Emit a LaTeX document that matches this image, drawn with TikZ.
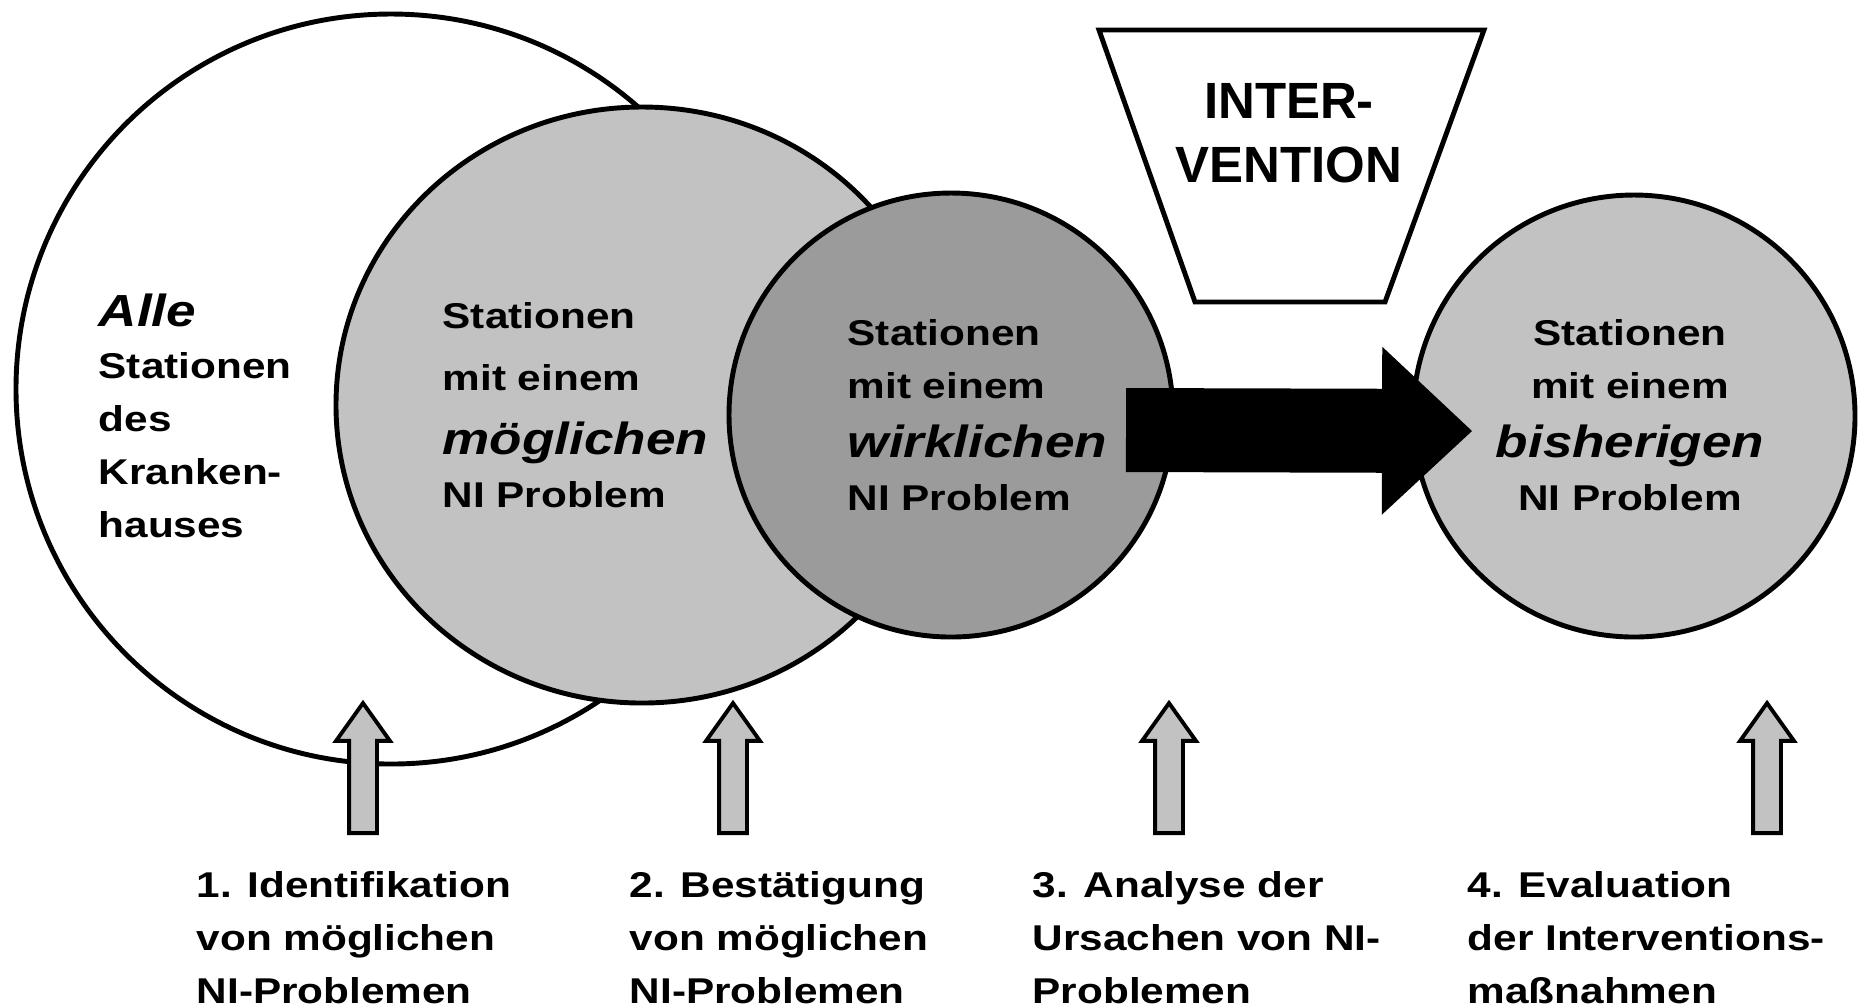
\documentclass[tikz,border=0pt]{standalone}
\usepackage{fontspec}
\setmainfont{Liberation Sans}[FakeStretch=1.18]
\newfontfamily\ivfont{Liberation Sans}
\usetikzlibrary{shapes.geometric,shapes.arrows,arrows.meta}

\definecolor{lightfill}{RGB}{194,194,194}
\definecolor{darkfill}{RGB}{155,155,155}
\newcommand{\emw}[1]{{\fontsize{12.8}{15}\selectfont\itshape #1}}

\tikzstyle{circ} = [ellipse, draw=black, line width=1.4pt, inner sep=0pt, outer sep=0pt]
\tikzstyle{lbl} = [inner sep=0pt, align=left, font=\fontsize{10.2}{15}\selectfont\bfseries]
\tikzstyle{up_arr} = [single arrow, draw=black, line width=1.1pt, fill=lightfill, rotate=90, inner xsep=0pt, inner ysep=1.2mm, minimum height=1.3cm, single arrow head extend=1.3mm, single arrow tip angle=71, anchor=tail]
\tikzstyle{arrow} = [line width=8.4mm, -{Triangle[length=9mm,width=16.8mm,line width=0pt]}]
\tikzstyle{funnel} = [draw=black, line width=1.4pt, line join=miter]

\begin{document}
\begin{tikzpicture}
\useasboundingbox (0,0) rectangle (18.6,-10.06);

% Circles
\node (c1) [circ, fill=white, minimum width=7.5cm, minimum height=7.5cm] at (3.91,-3.89) {};
\node (c2) [circ, fill=lightfill, minimum width=6.12cm, minimum height=5.96cm] at (6.42,-4.05) {};
\node (c3) [circ, fill=darkfill, minimum width=4.44cm, minimum height=4.44cm] at (9.51,-4.15) {};
\node (c4) [circ, fill=lightfill, minimum width=4.42cm, minimum height=4.42cm] at (16.34,-4.16) {};

\node (t1) [lbl, anchor=base west] at (0.98,-5.37) {\emw{Alle}\\Stationen\\des\\Kranken-\\hauses};
\node (t2) [lbl, anchor=base west] at (4.42,-5.07) {Stationen\\[2.6pt]mit einem\\[3.2pt]\emw{möglichen}\\NI Problem};
\node (t3) [lbl, anchor=base west] at (8.47,-5.10) {Stationen\\mit einem\\[1.8pt]\emw{wirklichen}\\NI Problem};
\node (t4) [lbl, anchor=base, align=center] at (16.30,-5.10) {Stationen\\mit einem\\[1.8pt]\emw{bisherigen}\\NI Problem};

% Intervention
\draw [funnel] (10.99,-0.30) -- (14.84,-0.30) -- (13.85,-3.02) -- (11.95,-3.02) -- cycle;
\node (iv) [inner sep=0pt, anchor=base, align=center, font=\ivfont\fontsize{14.5}{18.2}\selectfont\bfseries] at (12.89,-1.82) {INTER-\\VENTION};

\draw [arrow] ([xshift=-4.7mm,yshift=-1.5mm]c3.east) -- ([xshift=5.9mm,yshift=-1.5mm]c4.west);

% Steps
\node (a1) [up_arr] at (3.63,-8.35) {};
\node (a2) [up_arr] at (7.33,-8.35) {};
\node (a3) [up_arr] at (11.69,-8.35) {};
\node (a4) [up_arr] at (17.67,-8.35) {};

\node (s1) [lbl, anchor=base west] at (1.96,-10.03) {1. Identifikation\\von möglichen\\NI-Problemen};
\node (s2) [lbl, anchor=base west] at (6.29,-10.03) {2. Bestätigung\\von möglichen\\NI-Problemen};
\node (s3) [lbl, anchor=base west] at (10.32,-10.03) {3. Analyse der\\Ursachen von NI-\\Problemen};
\node (s4) [lbl, anchor=base west] at (14.67,-10.03) {4. Evaluation\\der Interventions-\\maßnahmen};
\end{tikzpicture}
\end{document}
